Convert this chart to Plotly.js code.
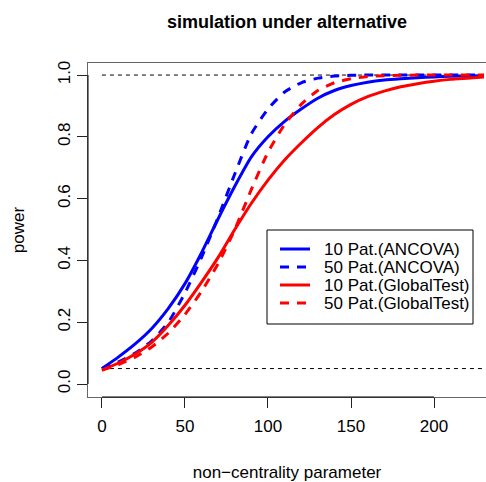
<!DOCTYPE html>
<html>
<head>
<meta charset="utf-8">
<script src="https://cdn.plot.ly/plotly-3.0.1.min.js"></script>
<style>html,body{margin:0;padding:0;background:#fff;}#chart{width:486px;height:482px;}</style>
</head>
<body>
<div id="chart"></div>
<script>
// non-centrality parameter grid
var ncp = [0,10,20,30,40,50,60,70,80,90,100,110,120,130,140,150,160,170,180,190,200,210,220,230];
// power curves
var ancova10 = [0.05,0.088,0.13,0.18,0.245,0.325,0.425,0.535,0.64,0.735,0.80,0.85,0.89,0.925,0.95,0.966,0.977,0.984,0.988,0.991,0.994,0.996,0.997,0.998];
var ancova50 = [0.05,0.072,0.10,0.14,0.20,0.295,0.41,0.54,0.68,0.81,0.89,0.945,0.975,0.99,0.997,0.999,1.0,1.0,1.0,1.0,1.0,1.0,1.0,1.0];
var global10 = [0.045,0.068,0.097,0.135,0.19,0.255,0.33,0.41,0.50,0.585,0.66,0.725,0.78,0.83,0.872,0.905,0.93,0.948,0.962,0.972,0.98,0.986,0.99,0.994];
var global50 = [0.045,0.063,0.087,0.12,0.165,0.225,0.30,0.39,0.50,0.63,0.75,0.84,0.905,0.95,0.975,0.988,0.995,0.998,0.999,1.0,1.0,1.0,1.0,1.0];
var seriesNames = ["10 Pat.(ANCOVA)","50 Pat.(ANCOVA)","10 Pat.(GlobalTest)","50 Pat.(GlobalTest)"];
var seriesColors = ["#0000FF","#0000FF","#FF0000","#FF0000"];
var seriesDash = ["solid","9px,8px","solid","9px,8px"];
var refLevels = [0.05, 1.0];
var refX = [0, 231];
var xTicks = [0,50,100,150,200];
var yTicks = [0,0.2,0.4,0.6,0.8,1.0];
var yTickText = ["0.0","0.2","0.4","0.6","0.8","1.0"];

var FONT = "Liberation Sans, Arial, Helvetica, sans-serif";
var W = 486, H = 482, ML = 88, MR = 0, MT = 63, MB = 85;
var PW = W - ML - MR, PH = H - MT - MB;
function px2x(p){ return (p - ML) / PW; }
function px2y(p){ return (H - MB - p) / PH; }

var traces = [];
refLevels.forEach(function(lv){
  traces.push({x: refX, y: [lv, lv], mode: "lines", showlegend: false, hoverinfo: "skip",
    line: {color: "#000", width: 1, dash: "4px,4px"}});
});
[ancova10, ancova50, global10, global50].forEach(function(vals, i){
  traces.push({x: ncp, y: vals, name: seriesNames[i], mode: "lines", showlegend: false,
    line: {color: seriesColors[i], width: 3, dash: seriesDash[i], shape: "spline", smoothing: 0.6}});
});

// legend box drawn R-style
var shapes = [
  {type: "line", xref: "x", yref: "paper", x0: 0, x1: 200, y0: 0, y1: 0, line: {color: "#000", width: 1}},
  {type: "line", xref: "paper", yref: "y", x0: 0, x1: 0, y0: 0, y1: 1, line: {color: "#000", width: 1}},
  {type: "rect", xref: "paper", yref: "paper", x0: px2x(267), x1: px2x(473), y0: px2y(324), y1: px2y(230),
    line: {color: "#000", width: 1}, fillcolor: "#fff", layer: "above"}
];
var annotations = [];
var rowY = [249, 267, 285, 303];
seriesNames.forEach(function(nm, i){
  shapes.push({type: "line", xref: "paper", yref: "paper", x0: px2x(280), x1: px2x(310), y0: px2y(rowY[i]), y1: px2y(rowY[i]),
    line: {color: seriesColors[i], width: 3, dash: seriesDash[i]}, layer: "above"});
  annotations.push({xref: "paper", yref: "paper", x: px2x(322), y: px2y(rowY[i]), xanchor: "left", yanchor: "middle",
    text: nm, showarrow: false, font: {family: FONT, size: 17, color: "#000"}});
});

var layout = {
  width: W, height: H,
  margin: {l: ML, r: MR, t: MT, b: MB},
  paper_bgcolor: "#fff", plot_bgcolor: "#fff",
  font: {family: FONT, size: 17, color: "#000"},
  title: {text: "<b>simulation under alternative</b>", font: {family: FONT, size: 18, color: "#000"},
    x: 0.5, xref: "paper", xanchor: "center", y: 0.955, yanchor: "middle"},
  xaxis: {range: [-8.4, 231.3], tickvals: xTicks, ticktext: xTicks.map(String), ticks: "outside", ticklen: 10,
    tickcolor: "#222", tickwidth: 1, showgrid: false, zeroline: false, showline: true, mirror: true,
    linecolor: "#666", linewidth: 1, tickfont: {size: 17}, ticklabelstandoff: 4,
    title: {text: "non\u2212centrality parameter", font: {size: 17}, standoff: 30}},
  yaxis: {range: [-0.042, 1.039], tickvals: yTicks, ticktext: yTickText, tickangle: -90, ticks: "outside", ticklen: 10,
    tickcolor: "#222", tickwidth: 1, showgrid: false, zeroline: false, showline: true, mirror: true,
    linecolor: "#666", linewidth: 1, tickfont: {size: 17},
    title: {text: "power", font: {size: 17}, standoff: 26}},
  shapes: shapes,
  annotations: annotations,
  showlegend: false
};
Plotly.newPlot("chart", traces, layout, {displayModeBar: false, staticPlot: true});
</script>
</body>
</html>
